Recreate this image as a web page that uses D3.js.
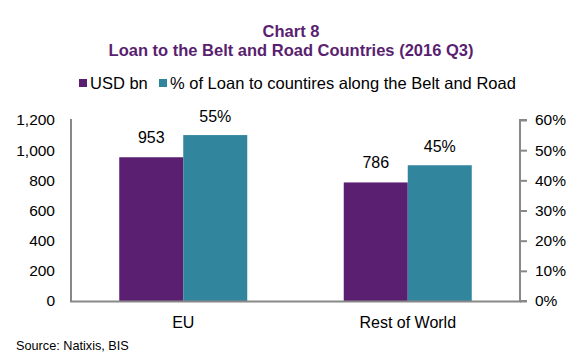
<!DOCTYPE html>
<html><head><meta charset="utf-8">
<script src="https://cdn.jsdelivr.net/npm/d3@7"></script>
<style>body{margin:0;background:#fff}svg{display:block}text{font-family:"Liberation Sans",Arial,sans-serif}</style>
</head><body><svg id="c" width="583" height="359"></svg>
<script>
const categories = ["EU", "Rest of World"];
const usdBn = [953, 786];
const pctLoan = [55, 45];
const leftTicks = [0, 200, 400, 600, 800, 1000, 1200];
const rightTicks = [0, 10, 20, 30, 40, 50, 60];
const seriesNames = ["USD bn", "% of Loan to countires along the Belt and Road"];
const colors = ["#5a1f70", "#31859c"];

const svg = d3.select("#c");
const m = {l: 71, r: 520, t: 120, b: 301};
const x = d3.scaleBand().domain(categories).range([m.l, m.r]);
const yL = d3.scaleLinear().domain([0, 1200]).range([m.b, m.t]);
const yR = d3.scaleLinear().domain([0, 60]).range([m.b, m.t]);
const bw = 64;

svg.append("text").attr("x", 291).attr("y", 37).attr("text-anchor", "middle")
  .attr("font-size", 16.5).attr("font-weight", "bold").attr("fill", "#5a1f70").text("Chart 8");
svg.append("text").attr("x", 291).attr("y", 56).attr("text-anchor", "middle")
  .attr("font-size", 16.5).attr("font-weight", "bold").attr("fill", "#5a1f70").text("Loan to the Belt and Road Countries (2016 Q3)");

// legend
const lg = svg.append("g");
lg.append("rect").attr("x", 79).attr("y", 79).attr("width", 8).attr("height", 8).attr("fill", colors[0]);
lg.append("text").attr("x", 90).attr("y", 89).attr("font-size", 16.5).attr("fill", "#000").text(seriesNames[0]);
lg.append("rect").attr("x", 159).attr("y", 79).attr("width", 8).attr("height", 8).attr("fill", colors[1]);
lg.append("text").attr("x", 170).attr("y", 89).attr("font-size", 16.5).attr("fill", "#000").text(seriesNames[1]);

// bars
categories.forEach((c, i) => {
  const cx = x(c) + x.bandwidth() / 2;
  svg.append("rect").attr("x", cx - bw).attr("width", bw)
    .attr("y", yL(usdBn[i])).attr("height", m.b - yL(usdBn[i])).attr("fill", colors[0]);
  svg.append("rect").attr("x", cx).attr("width", bw)
    .attr("y", yR(pctLoan[i])).attr("height", m.b - yR(pctLoan[i])).attr("fill", colors[1]);
  svg.append("text").attr("x", cx - bw / 2).attr("y", yL(usdBn[i]) - 14).attr("text-anchor", "middle")
    .attr("font-size", 16).text(d3.format(",")(usdBn[i]));
  svg.append("text").attr("x", cx + bw / 2).attr("y", yR(pctLoan[i]) - 13).attr("text-anchor", "middle")
    .attr("font-size", 16).text(pctLoan[i] + "%");
  svg.append("text").attr("x", cx).attr("y", 328).attr("text-anchor", "middle")
    .attr("font-size", 16).text(c);
});

// axes
const axisColor = "#888";
const gL = svg.append("g").attr("transform", `translate(${m.l},0)`)
  .call(d3.axisLeft(yL).tickValues(leftTicks).tickSize(0).tickPadding(16).tickFormat(d3.format(",")));
const gR = svg.append("g").attr("transform", `translate(${m.r},0)`)
  .call(d3.axisRight(yR).tickValues(rightTicks).tickSize(7).tickPadding(8).tickFormat(d => d + "%"));
[gL, gR].forEach(g => {
  g.select(".domain").attr("stroke", axisColor).attr("stroke-width", 2);
  g.selectAll(".tick line").attr("stroke", axisColor).attr("stroke-width", 2);
  g.selectAll(".tick text").attr("font-size", 15.5).attr("fill", "#000")
    .attr("font-family", "'Liberation Sans',Arial,sans-serif");
});
gL.select(".domain").attr("d", `M0,${m.t - 1}V${m.b}`);
gR.select(".domain").attr("d", `M7,${m.t}H0V${m.b}H7`);
svg.append("line").attr("x1", m.l - 1).attr("x2", m.r + 1).attr("y1", m.b + 0.5).attr("y2", m.b + 0.5)
  .attr("stroke", axisColor).attr("stroke-width", 2);

svg.append("text").attr("x", 16).attr("y", 350).attr("font-size", 12.7).text("Source: Natixis, BIS");
</script></body></html>
